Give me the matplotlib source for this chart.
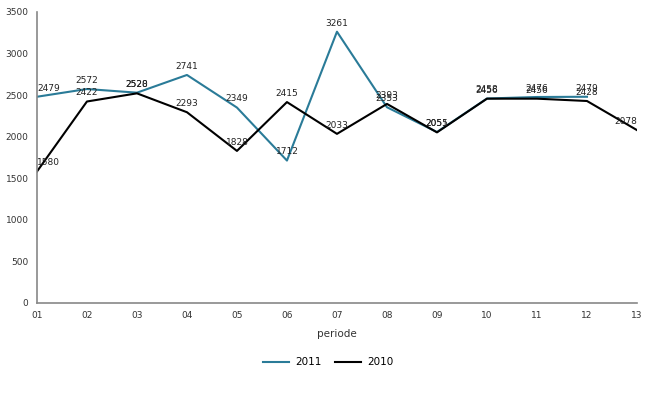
import matplotlib.pyplot as plt

# --- Dados ---
periodes = ["01", "02", "03", "04", "05", "06", "07", "08", "09", "10", "11", "12", "13"]
waarden_2011 = [2479, 2572, 2528, 2741, 2349, 1712, 3261, 2353, 2055, 2458, 2476, 2479]
waarden_2010 = [1580, 2422, 2520, 2293, 1828, 2415, 2033, 2393, 2051, 2456, 2456, 2428, 2078]

kleur_2011 = "#2a7b98"
kleur_2010 = "#000000"


def labels(ax, xs, ys):
    n = len(periodes)
    for x, y in zip(xs, ys):
        ha = "center"
        if x == 0:
            ha = "left"
        elif x == n - 1:
            ha = "right"
        ax.annotate(str(y), (x, y), xytext=(0, 3), textcoords="offset points",
                    ha=ha, va="bottom", fontsize=6.5, color="#222222")


fig = plt.figure(figsize=(6.48, 3.94), dpi=100)
ax = fig.add_axes([0.057, 0.231, 0.926, 0.739])

x11 = list(range(len(waarden_2011)))
x10 = list(range(len(waarden_2010)))
ax.plot(x11, waarden_2011, color=kleur_2011, linewidth=1.5, label="2011")
ax.plot(x10, waarden_2010, color=kleur_2010, linewidth=1.5, label="2010")
labels(ax, x11, waarden_2011)
labels(ax, x10, waarden_2010)

ax.set_xlim(0, len(periodes) - 1)
ax.set_ylim(0, 3500)
ax.set_xticks(range(len(periodes)))
ax.set_xticklabels(periodes)
ax.set_yticks(range(0, 3501, 500))
ax.tick_params(length=0, labelsize=6.5, labelcolor="#333333", pad=6)

for s in ["top", "right"]:
    ax.spines[s].set_visible(False)
for s in ["left", "bottom"]:
    ax.spines[s].set_color("#888888")
    ax.spines[s].set_linewidth(1.2)

ax.set_xlabel("periode", fontsize=7.5, color="#333333", labelpad=6)
ax.legend(loc="upper center", bbox_to_anchor=(0.486, -0.155), ncol=2, frameon=False,
          fontsize=7.5, handlelength=2.5, handletextpad=0.6, columnspacing=1.3)

plt.savefig("out.png")
plt.close()
